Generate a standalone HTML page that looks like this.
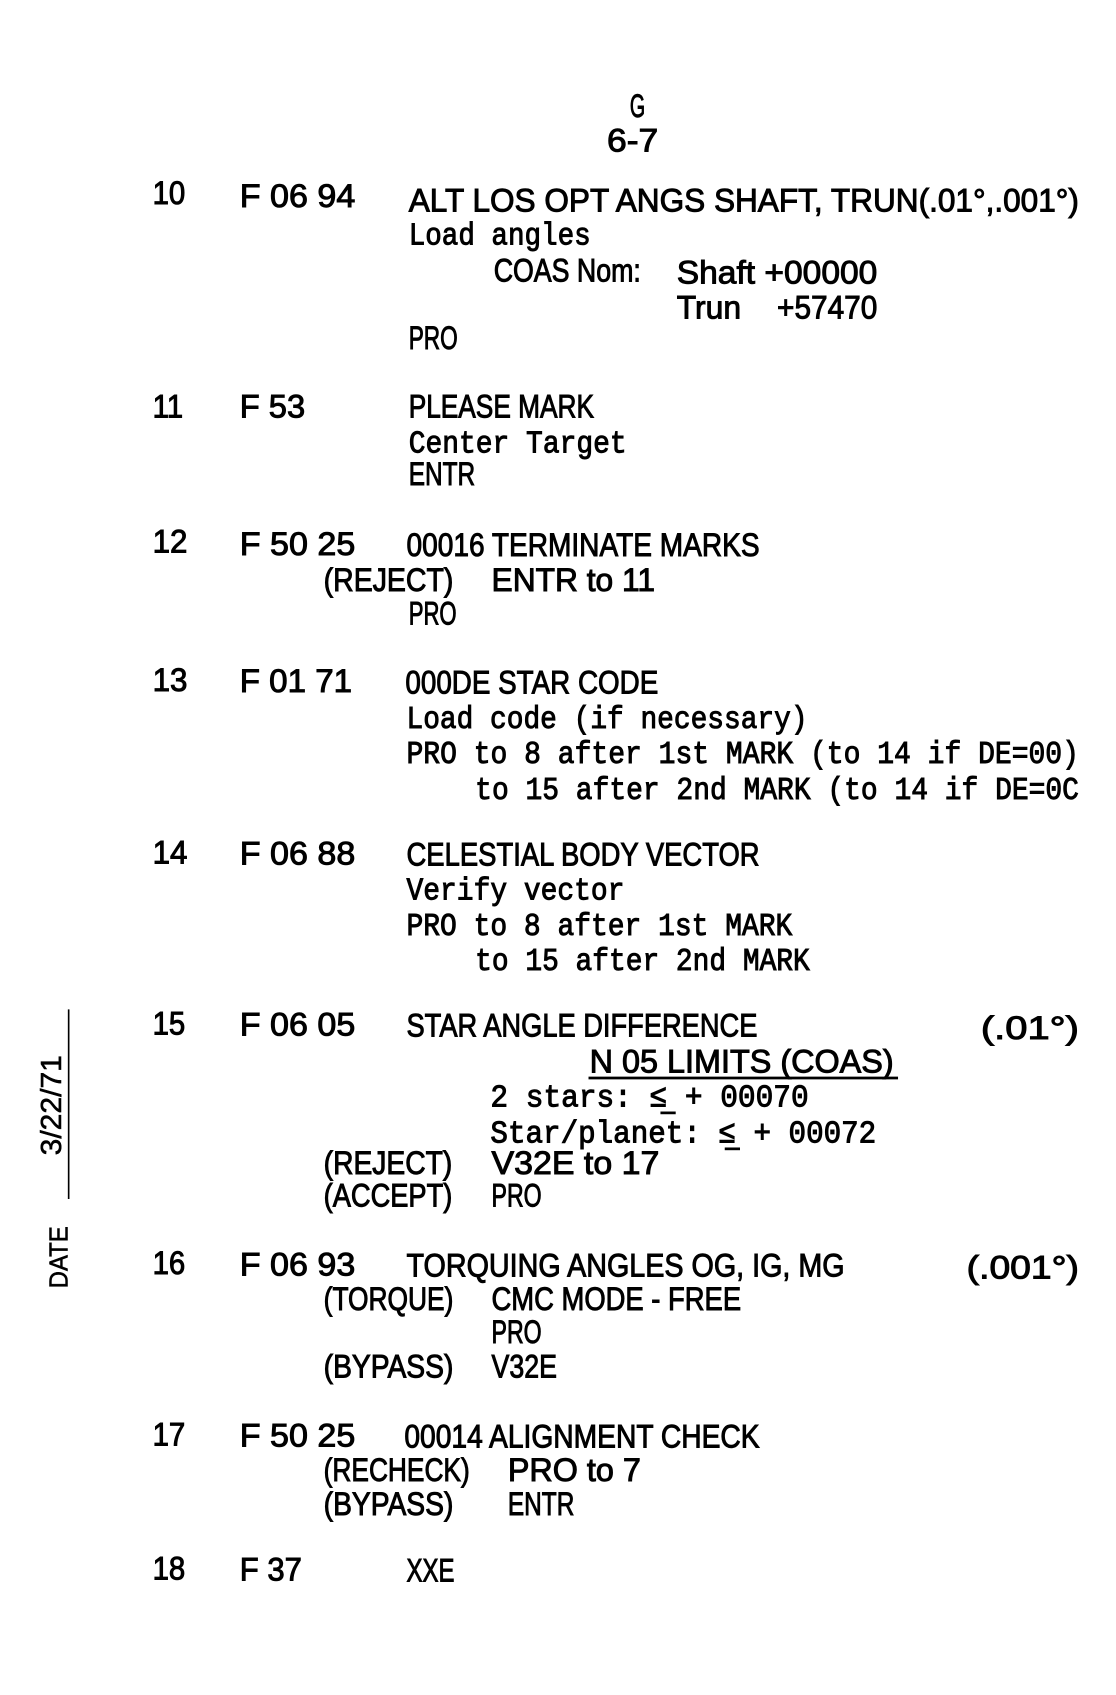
<!DOCTYPE html>
<html><head><meta charset="utf-8"><style>
html,body{margin:0;padding:0;background:#fff;width:1116px;height:1695px;overflow:hidden}
svg{display:block}
text{font-family:"Liberation Sans",sans-serif;font-size:30px;fill:#000;stroke:#000;stroke-width:0.9}
.m{font-family:"Liberation Mono",monospace;font-size:29px}
</style></head><body>
<svg width="1116" height="1695" viewBox="0 0 1024 1555" xmlns="http://www.w3.org/2000/svg">
<g transform="translate(0,-4)">
<text x="578" y="111" textLength="14" lengthAdjust="spacingAndGlyphs">G</text>
<text x="557" y="143" textLength="47" lengthAdjust="spacingAndGlyphs">6-7</text>

<text x="140" y="191" textLength="30" lengthAdjust="spacingAndGlyphs">10</text>
<text x="220" y="194" textLength="106" lengthAdjust="spacingAndGlyphs">F 06 94</text>
<text x="375" y="198" textLength="615" lengthAdjust="spacingAndGlyphs">ALT LOS OPT ANGS SHAFT, TRUN(.01°,.001°)</text>
<text class="m" x="375" y="228" textLength="167" lengthAdjust="spacingAndGlyphs">Load angles</text>
<text x="453" y="262" textLength="135" lengthAdjust="spacingAndGlyphs">COAS Nom:</text>
<text x="621" y="264" textLength="184" lengthAdjust="spacingAndGlyphs">Shaft +00000</text>
<text x="621" y="296" textLength="59" lengthAdjust="spacingAndGlyphs">Trun</text>
<text x="713" y="296" textLength="92" lengthAdjust="spacingAndGlyphs">+57470</text>
<text x="375" y="324" textLength="45" lengthAdjust="spacingAndGlyphs">PRO</text>

<text x="140" y="387" textLength="28" lengthAdjust="spacingAndGlyphs">11</text>
<text x="220" y="387" textLength="60" lengthAdjust="spacingAndGlyphs">F 53</text>
<text x="375" y="387" textLength="170" lengthAdjust="spacingAndGlyphs">PLEASE MARK</text>
<text class="m" x="375" y="419" textLength="200" lengthAdjust="spacingAndGlyphs">Center Target</text>
<text x="375" y="449" textLength="61" lengthAdjust="spacingAndGlyphs">ENTR</text>

<text x="140" y="511" textLength="32" lengthAdjust="spacingAndGlyphs">12</text>
<text x="220" y="513" textLength="106" lengthAdjust="spacingAndGlyphs">F 50 25</text>
<text x="373" y="514" textLength="324" lengthAdjust="spacingAndGlyphs">00016 TERMINATE MARKS</text>
<text x="297" y="546" textLength="119" lengthAdjust="spacingAndGlyphs">(REJECT)</text>
<text x="451" y="546" textLength="150" lengthAdjust="spacingAndGlyphs">ENTR to 11</text>
<text x="375" y="577" textLength="44" lengthAdjust="spacingAndGlyphs">PRO</text>

<text x="140" y="638" textLength="32" lengthAdjust="spacingAndGlyphs">13</text>
<text x="220" y="639" textLength="103" lengthAdjust="spacingAndGlyphs">F 01 71</text>
<text x="372" y="640" textLength="232" lengthAdjust="spacingAndGlyphs">000DE STAR CODE</text>
<text class="m" x="373" y="672" textLength="368" lengthAdjust="spacingAndGlyphs">Load code (if necessary)</text>
<text class="m" x="373" y="704" textLength="617" lengthAdjust="spacingAndGlyphs">PRO to 8 after 1st MARK (to 14 if DE=00)</text>
<text class="m" x="436" y="737" textLength="554" lengthAdjust="spacingAndGlyphs">to 15 after 2nd MARK (to 14 if DE=0C</text>

<text x="140" y="796" textLength="32" lengthAdjust="spacingAndGlyphs">14</text>
<text x="220" y="797" textLength="106" lengthAdjust="spacingAndGlyphs">F 06 88</text>
<text x="373" y="798" textLength="324" lengthAdjust="spacingAndGlyphs">CELESTIAL BODY VECTOR</text>
<text class="m" x="373" y="829" textLength="200" lengthAdjust="spacingAndGlyphs">Verify vector</text>
<text class="m" x="373" y="862" textLength="354" lengthAdjust="spacingAndGlyphs">PRO to 8 after 1st MARK</text>
<text class="m" x="436" y="894" textLength="307" lengthAdjust="spacingAndGlyphs">to 15 after 2nd MARK</text>

<text x="140" y="953" textLength="30" lengthAdjust="spacingAndGlyphs">15</text>
<text x="220" y="954" textLength="106" lengthAdjust="spacingAndGlyphs">F 06 05</text>
<text x="373" y="955" textLength="322" lengthAdjust="spacingAndGlyphs">STAR ANGLE DIFFERENCE</text>
<text x="900" y="957" textLength="90" lengthAdjust="spacingAndGlyphs">(.01°)</text>
<text x="541" y="988" textLength="279" lengthAdjust="spacingAndGlyphs">N 05 LIMITS (COAS)</text>
<line x1="540" y1="993" x2="824" y2="993" stroke="#000" stroke-width="2.5"/>
<text class="m" x="450" y="1019" textLength="292" lengthAdjust="spacingAndGlyphs">2 stars:  ≤ + 00070</text>
<text class="m" x="450" y="1052" textLength="354" lengthAdjust="spacingAndGlyphs">Star/planet:  ≤ + 00072</text>
<line x1="606" y1="1025" x2="620" y2="1025" stroke="#000" stroke-width="2.5"/>
<line x1="665" y1="1058" x2="679" y2="1058" stroke="#000" stroke-width="2.5"/>
<text x="297" y="1081" textLength="118" lengthAdjust="spacingAndGlyphs">(REJECT)</text>
<text x="451" y="1081" textLength="154" lengthAdjust="spacingAndGlyphs">V32E to 17</text>
<text x="297" y="1111" textLength="118" lengthAdjust="spacingAndGlyphs">(ACCEPT)</text>
<text x="451" y="1111" textLength="46" lengthAdjust="spacingAndGlyphs">PRO</text>

<text x="140" y="1173" textLength="30" lengthAdjust="spacingAndGlyphs">16</text>
<text x="220" y="1174" textLength="106" lengthAdjust="spacingAndGlyphs">F 06 93</text>
<text x="373" y="1175" textLength="402" lengthAdjust="spacingAndGlyphs">TORQUING ANGLES OG, IG, MG</text>
<text x="887" y="1177" textLength="103" lengthAdjust="spacingAndGlyphs">(.001°)</text>
<text x="297" y="1206" textLength="119" lengthAdjust="spacingAndGlyphs">(TORQUE)</text>
<text x="451" y="1206" textLength="229" lengthAdjust="spacingAndGlyphs">CMC MODE - FREE</text>
<text x="451" y="1236" textLength="46" lengthAdjust="spacingAndGlyphs">PRO</text>
<text x="297" y="1268" textLength="119" lengthAdjust="spacingAndGlyphs">(BYPASS)</text>
<text x="451" y="1268" textLength="60" lengthAdjust="spacingAndGlyphs">V32E</text>

<text x="140" y="1330" textLength="30" lengthAdjust="spacingAndGlyphs">17</text>
<text x="220" y="1331" textLength="106" lengthAdjust="spacingAndGlyphs">F 50 25</text>
<text x="371" y="1332" textLength="326" lengthAdjust="spacingAndGlyphs">00014 ALIGNMENT CHECK</text>
<text x="297" y="1363" textLength="134" lengthAdjust="spacingAndGlyphs">(RECHECK)</text>
<text x="466" y="1363" textLength="122" lengthAdjust="spacingAndGlyphs">PRO to 7</text>
<text x="297" y="1394" textLength="119" lengthAdjust="spacingAndGlyphs">(BYPASS)</text>
<text x="466" y="1394" textLength="61" lengthAdjust="spacingAndGlyphs">ENTR</text>

<text x="140" y="1453" textLength="30" lengthAdjust="spacingAndGlyphs">18</text>
<text x="220" y="1454" textLength="57" lengthAdjust="spacingAndGlyphs">F 37</text>
<text x="373" y="1455" textLength="44" lengthAdjust="spacingAndGlyphs">XXE</text>
</g>
<line x1="63" y1="926" x2="63" y2="1100" stroke="#000" stroke-width="1.5"/>
<text transform="translate(56,1060) rotate(-90)" textLength="92" lengthAdjust="spacingAndGlyphs" style="font-size:26px;stroke-width:0.5">3/22/71</text>
<text transform="translate(62,1182) rotate(-90)" textLength="57" lengthAdjust="spacingAndGlyphs" style="font-size:24px;stroke-width:0.5">DATE</text>
</svg>
</body></html>
